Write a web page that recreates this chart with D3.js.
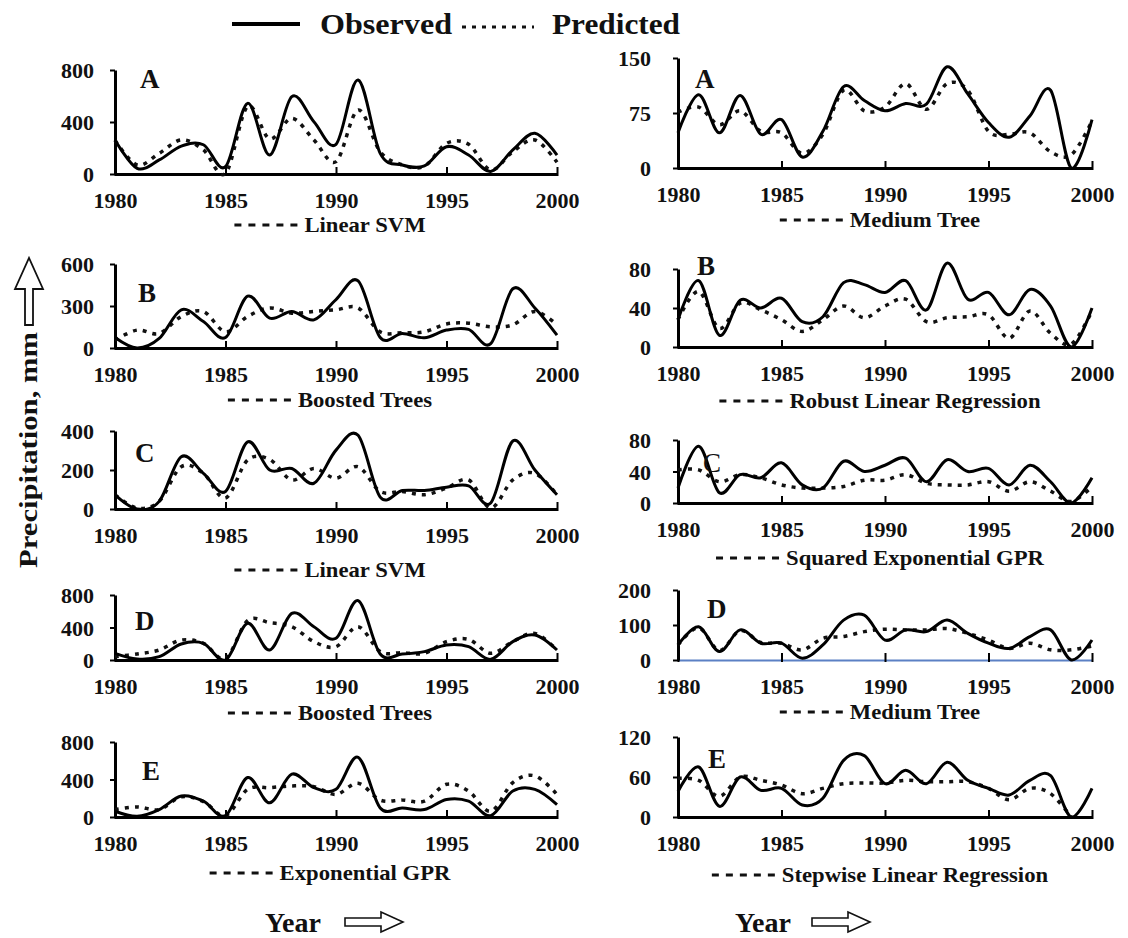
<!DOCTYPE html>
<html><head><meta charset="utf-8">
<script src="https://cdn.jsdelivr.net/npm/d3@7"></script>
<style>
body{margin:0;background:#fff}
text{font-family:"Liberation Serif","Times New Roman",serif;font-weight:bold;fill:#111}
</style>
</head><body>
<svg id="c" width="1128" height="938"></svg>
<script>
// ---------------- data ----------------
const years = [1980,1981,1982,1983,1984,1985,1986,1987,1988,1989,1990,1991,1992,1993,1994,1995,1996,1997,1998,1999,2000];
const xTickValues = [1980,1985,1990,1995,2000];

// Left column
const obsLA  = [262,44,108,215,225,56,543,146,595,402,228,723,159,69,62,210,146,20,185,313,146];
const predLA = [260,70,159,262,185,5,520,270,428,262,95,492,172,70,60,236,228,31,172,262,90];
const obsLB  = [75,0,68,273,189,75,370,213,261,201,346,479,75,104,73,128,133,31,423,286,92];
const predLB = [56,128,104,225,261,116,225,286,249,261,273,286,116,109,116,172,177,152,165,261,165];
const obsLC  = [73,0,39,268,183,90,344,200,208,132,302,378,61,95,95,112,119,31,349,200,73];
const predLC = [73,5,40,217,183,56,251,254,149,208,158,217,90,90,73,107,149,5,149,183,73];
const obsLD  = [82,12,41,197,205,0,451,123,574,410,267,730,74,74,103,185,164,8,226,308,123];
const predLD = [41,74,123,246,205,20,484,459,410,226,164,410,103,90,82,226,254,82,226,328,123];
const obsLE  = [61,7,79,223,169,14,421,151,457,313,295,637,97,97,79,187,169,14,277,295,133];
const predLE = [79,108,79,215,165,14,295,313,331,324,241,360,180,180,169,349,277,61,367,439,241];

// Right column
const obsRA  = [48,100,48,99,46,66,15,50,111,92,78,88,87,138,101,62,42,71,106,0,66];
const predRA = [76,83,59,78,50,48,20,46,106,78,83,115,80,115,106,50,46,48,22,18,64];
const obsRB  = [28,68,12,48,40,50,26,31,66,64,56,68,38,86,49,56,33,59,42,0,40];
const predRB = [28,57,19,45,38,28,16,28,42,30,42,49,26,30,31,33,9,37,14,3,37];
const obsRC  = [19,72,13,36,32,51,23,19,53,40,48,57,27,55,40,44,23,48,27,0,32];
const predRC = [42,42,27,36,32,23,19,19,21,29,29,36,25,23,23,27,15,27,15,2,21];
const obsRD  = [43,95,24,86,48,48,5,43,114,128,57,86,81,114,76,48,33,67,86,0,57];
const predRD = [43,92,27,84,50,48,29,62,67,81,88,86,86,90,76,57,33,48,29,29,40];
const obsRE  = [38,75,16,60,40,43,18,28,85,92,50,70,50,82,55,43,33,55,62,0,43];
const predRE = [58,55,31,60,55,48,35,43,50,51,51,55,53,53,53,43,26,43,35,0,null];

// y tick labels per panel
const ticksLA = [0,400,800], ticksLB = [0,300,600], ticksLC = [0,200,400], ticksLD = [0,400,800], ticksLE = [0,400,800];
const ticksRA = [0,75,150], ticksRB = [0,40,80], ticksRC = [0,40,80], ticksRD = [0,100,200], ticksRE = [0,60,120];

const letters = ["A","B","C","D","E"];
const captionsLeft  = ["Linear SVM","Boosted Trees","Linear SVM","Boosted Trees","Exponential GPR"];
const captionsRight = ["Medium Tree","Robust Linear Regression","Squared Exponential GPR","Medium Tree","Stepwise Linear Regression"];
const legendLabels = ["Observed","Predicted"];
const yTitle = "Precipitation, mm";
const xTitle = "Year";

// ---------------- layout ----------------
const left  = {x0:115, x1:557, labelGap:21, capCx:330};
const right = {x0:678, x1:1092, labelGap:27, capCx:880};
const panels = [
  {col:left,  obs:obsLA, pred:predLA, ticks:ticksLA, letter:letters[0], cap:captionsLeft[0],  yb:174, yt:70,  lx:140, ly:88,  capY:232},
  {col:left,  obs:obsLB, pred:predLB, ticks:ticksLB, letter:letters[1], cap:captionsLeft[1],  yb:348, yt:264, lx:138, ly:302, capY:407},
  {col:left,  obs:obsLC, pred:predLC, ticks:ticksLC, letter:letters[2], cap:captionsLeft[2],  yb:509, yt:431, lx:135, ly:462, capY:577},
  {col:left,  obs:obsLD, pred:predLD, ticks:ticksLD, letter:letters[3], cap:captionsLeft[3],  yb:660, yt:595, lx:135, ly:630, capY:720},
  {col:left,  obs:obsLE, pred:predLE, ticks:ticksLE, letter:letters[4], cap:captionsLeft[4],  yb:817, yt:742, lx:142, ly:780, capY:880},
  {col:right, obs:obsRA, pred:predRA, ticks:ticksRA, letter:letters[0], cap:captionsRight[0], yb:168, yt:58,  lx:695, ly:88,  capY:227},
  {col:right, obs:obsRB, pred:predRB, ticks:ticksRB, letter:letters[1], cap:captionsRight[1], yb:347, yt:269, lx:697, ly:275, capY:408},
  {col:right, obs:obsRC, pred:predRC, ticks:ticksRC, letter:letters[2], cap:captionsRight[2], yb:503, yt:440, lx:703, ly:472, capY:565, thinLetter:true},
  {col:right, obs:obsRD, pred:predRD, ticks:ticksRD, letter:letters[3], cap:captionsRight[3], yb:660, yt:590, lx:707, ly:618, capY:719, blueAxis:true},
  {col:right, obs:obsRE, pred:predRE, ticks:ticksRE, letter:letters[4], cap:captionsRight[4], yb:817, yt:737, lx:708, ly:768, capY:882}
];

const svg = d3.select("#c");
const curve = d3.curveCardinal.tension(0);

panels.forEach(p => {
  const x = d3.scaleLinear().domain([years[0], years[years.length-1]]).range([p.col.x0, p.col.x1]);
  const y = d3.scaleLinear().domain([0, p.ticks[p.ticks.length-1]]).range([p.yb, p.yt]);
  const g = svg.append("g");

  // x axis
  const xa = g.append("g").attr("transform", `translate(0,${p.yb})`)
    .call(d3.axisBottom(x).tickValues(xTickValues).tickFormat(d3.format("d")).tickSizeInner(6).tickSizeOuter(0));
  xa.select(".domain").attr("stroke", p.blueAxis ? "#5b80c4" : "#000").attr("stroke-width", p.blueAxis ? 2 : 3);
  xa.selectAll(".tick line").attr("y1",-7).attr("y2",2).attr("stroke","#000").attr("stroke-width",2);
  xa.selectAll(".tick text").attr("y",34).attr("dy",null).style("font-size","22px").attr("fill","#111");

  // y axis
  const ya = g.append("g").attr("transform", `translate(${p.col.x0},0)`)
    .call(d3.axisLeft(y).tickValues(p.ticks).tickSizeInner(5).tickSizeOuter(0));
  ya.select(".domain").attr("stroke","#000").attr("stroke-width",3);
  ya.selectAll(".tick line").attr("stroke","#000").attr("stroke-width",2);
  ya.selectAll(".tick text").attr("x",-p.col.labelGap).attr("dy","0.35em")
    .style("font-size","22px").attr("fill","#111");

  // lines
  const line = d3.line().defined(d => d != null).x((d,i) => x(years[i])).y(d => y(d)).curve(curve);
  g.append("path").attr("d", line(p.pred)).attr("fill","none").attr("stroke","#111")
    .attr("stroke-width",3.5).attr("stroke-dasharray","4,6");
  g.append("path").attr("d", line(p.obs)).attr("fill","none").attr("stroke","#000")
    .attr("stroke-width",3);

  // panel letter
  g.append("text").attr("x",p.lx).attr("y",p.ly).text(p.letter)
    .style("font-size","27px").style("font-weight", p.thinLetter ? "normal" : "bold");

  // caption with dashed sample
  const cap = g.append("text").attr("y",p.capY).text(p.cap).style("font-size","21px");
  const tw0 = cap.node().getComputedTextLength();
  const tw = tw0 * 1.08;
  cap.attr("textLength", tw).attr("lengthAdjust","spacingAndGlyphs");
  const dashW = 64, gap = 6;
  const start = p.col.capCx - (dashW + gap + tw)/2;
  cap.attr("x", start + dashW + gap);
  g.append("line").attr("x1",start).attr("x2",start+dashW).attr("y1",p.capY-7).attr("y2",p.capY-7)
    .attr("stroke","#111").attr("stroke-width",3).attr("stroke-dasharray","7,7");
});

// legend
const lg = svg.append("g");
lg.append("line").attr("x1",232).attr("x2",300).attr("y1",24).attr("y2",24).attr("stroke","#000").attr("stroke-width",4);
lg.append("text").attr("x",320).attr("y",34).text(legendLabels[0]).style("font-size","29px")
  .attr("textLength",132).attr("lengthAdjust","spacingAndGlyphs");
lg.append("line").attr("x1",462).attr("x2",534).attr("y1",27).attr("y2",27).attr("stroke","#111").attr("stroke-width",3).attr("stroke-dasharray","4,6");
lg.append("text").attr("x",552).attr("y",34).text(legendLabels[1]).style("font-size","29px")
  .attr("textLength",128).attr("lengthAdjust","spacingAndGlyphs");

// y title + arrow
svg.append("text").attr("transform","translate(37,450) rotate(-90)").attr("text-anchor","middle")
  .attr("textLength",236).attr("lengthAdjust","spacingAndGlyphs").text(yTitle).style("font-size","26px");
svg.append("path").attr("d","M25,325 L33,325 L33,289 L43,289 L29,258 L15,289 L25,289 Z")
  .attr("fill","#fff").attr("stroke","#111").attr("stroke-width",1.8);

// x titles + arrows
[{tx:265, ax:345}, {tx:735, ax:812}].forEach(t => {
  svg.append("text").attr("x",t.tx).attr("y",932).text(xTitle).style("font-size","28px");
  const a = t.ax, cy = 922;
  svg.append("path").attr("d",`M${a},${cy-4} L${a+36},${cy-4} L${a+36},${cy-10} L${a+58},${cy} L${a+36},${cy+10} L${a+36},${cy+4} L${a},${cy+4} Z`)
    .attr("fill","#fff").attr("stroke","#111").attr("stroke-width",1.6);
});
</script>
</body></html>
